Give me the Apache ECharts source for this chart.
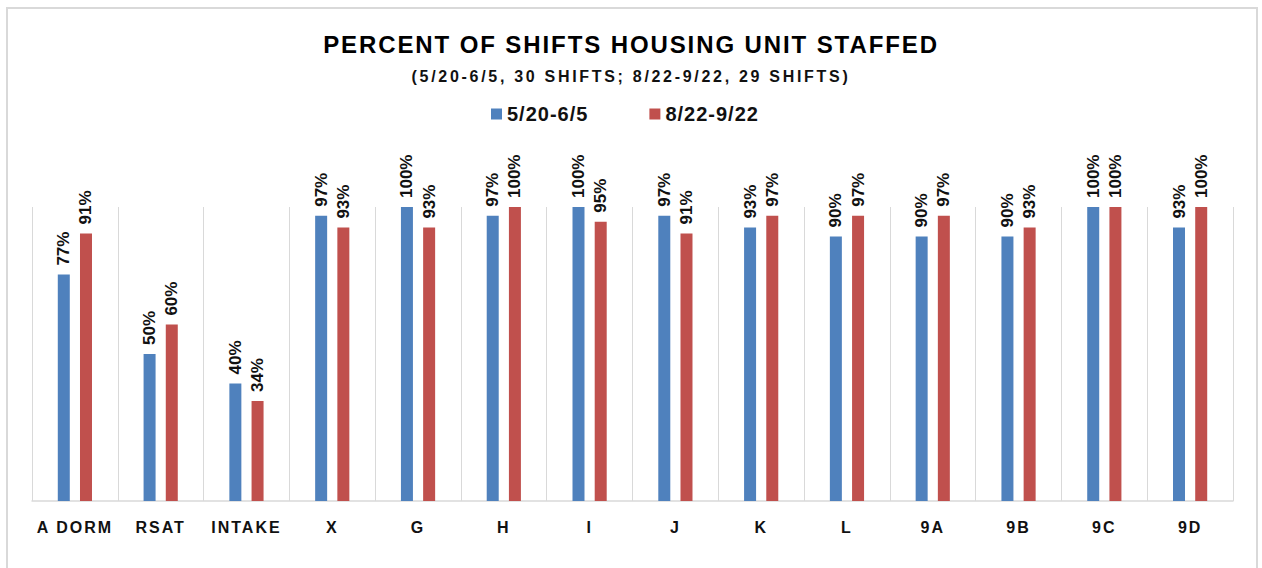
<!DOCTYPE html>
<html>
<head>
<meta charset="utf-8">
<script src="https://cdn.jsdelivr.net/npm/echarts@6/dist/echarts.min.js"></script>
<style>
  html, body { margin: 0; padding: 0; background: #ffffff; overflow: hidden; }
  #chart { position: absolute; left: 0; top: 0; width: 1262px; height: 568px; }
  #frame { position: absolute; left: 6px; top: 7px; width: 1248px; height: 700px;
           border: 2px solid #d9d9d9; pointer-events: none; }
</style>
</head>
<body>
<div id="chart"></div>
<div id="frame"></div>
<script>
// ---- data ----
const titleText = 'PERCENT OF SHIFTS HOUSING UNIT STAFFED';
const subtitleText = '(5/20-6/5, 30 SHIFTS; 8/22-9/22, 29 SHIFTS)';
const categories = ['A DORM', 'RSAT', 'INTAKE', 'X', 'G', 'H', 'I', 'J', 'K', 'L', '9A', '9B', '9C', '9D'];
const seriesNames = ['5/20-6/5', '8/22-9/22'];
const period1 = [77, 50, 40, 97, 100, 97, 100, 97, 93, 90, 90, 90, 100, 93];
const period2 = [91, 60, 34, 93, 93, 100, 95, 91, 97, 97, 97, 93, 100, 100];
const colors = ['#4f81bd', '#c0504d'];

const FONT = 'Liberation Sans';

const chart = echarts.init(document.getElementById('chart'), null, { renderer: 'svg' });

function barSeries(name, data, color) {
  return {
    name: name,
    type: 'bar',
    data: data,
    barWidth: 12,
    barGap: '85%',
    itemStyle: { color: color },
    label: {
      show: true,
      position: 'top',
      distance: 9,
      rotate: 90,
      align: 'left',
      verticalAlign: 'middle',
      formatter: p => p.value + '%',
      fontFamily: FONT,
      fontWeight: 'bold',
      fontSize: 17,
      color: '#111'
    }
  };
}

chart.setOption({
  animation: false,
  backgroundColor: '#ffffff',
  title: [
    {
      text: titleText,
      left: 'center',
      top: 27,
      textStyle: { fontFamily: FONT, fontWeight: 'bold', fontSize: 24, color: '#000' }
    },
    {
      text: subtitleText,
      left: 'center',
      top: 63,
      textStyle: { fontFamily: FONT, fontWeight: 'bold', fontSize: 16, color: '#111' }
    }
  ],
  legend: {
    data: seriesNames,
    left: 486,
    top: 99,
    icon: 'rect',
    itemWidth: 11,
    itemHeight: 11,
    itemGap: 69,
    textStyle: { fontFamily: FONT, fontWeight: 'bold', fontSize: 20, color: '#111' }
  },
  grid: { left: 32, right: 29, top: 207, bottom: 67, containLabel: false },
  xAxis: {
    type: 'category',
    data: categories,
    axisTick: { show: false },
    axisLine: { lineStyle: { color: '#d9d9d9', width: 1.5 } },
    splitLine: { show: true, lineStyle: { color: '#d9d9d9', width: 1 } },
    axisLabel: {
      margin: 18,
      fontFamily: FONT,
      fontWeight: 'bold',
      fontSize: 16,
      color: '#111',
      interval: 0
    }
  },
  yAxis: {
    type: 'value',
    min: 0,
    max: 100,
    interval: 20,
    axisLabel: { show: false },
    axisLine: { show: false },
    axisTick: { show: false },
    splitLine: { show: false }
  },
  series: [
    barSeries(seriesNames[0], period1, colors[0]),
    barSeries(seriesNames[1], period2, colors[1])
  ]
});

// letter spacing to mimic the spaced-out lettering of the original
function applySpacing() {
  const texts = document.querySelectorAll('#chart svg text');
  texts.forEach(t => {
    const s = t.textContent;
    let ls = null;
    if (s === titleText) ls = 1.9;
    else if (s === subtitleText) ls = 2.7;
    else if (categories.indexOf(s) >= 0) ls = 2;
    else if (seriesNames.indexOf(s) >= 0) ls = 1;
    if (ls !== null) t.setAttribute('letter-spacing', ls);
  });
}
chart.on('finished', applySpacing);
setTimeout(applySpacing, 0);
setTimeout(applySpacing, 100);
</script>
</body>
</html>
